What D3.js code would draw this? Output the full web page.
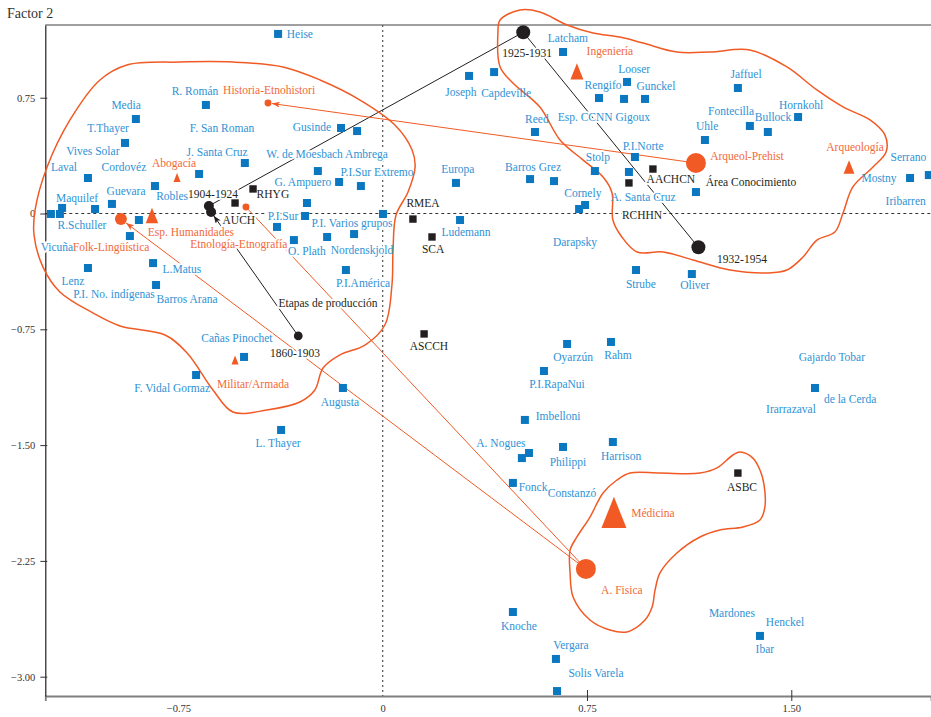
<!DOCTYPE html>
<html><head><meta charset="utf-8">
<script src="https://cdn.jsdelivr.net/npm/d3@7"></script>
<style>
body{margin:0;background:#fff;}
svg{display:block;font-family:"Liberation Serif","Times New Roman",serif;}
</style></head><body>
<svg id="chart" width="931" height="717"></svg>
<script>
// ---------------- DATA ----------------
const xTicks = [-0.75, 0, 0.75, 1.5];
const yTicks = [0.75, 0, -0.75, -1.5, -2.25, -3.0];
const xLabel = "", yLabel = "Factor 2";

// researchers (blue squares): [factor1, factor2]
const researcherSquares = [
[-0.384,1.163],[-0.649,0.703],[-0.906,0.612],[-0.946,0.457],[-1.082,0.230],[-0.836,0.178],[-0.674,0.256],[-0.506,0.327],[-0.994,0.062],[-1.056,0.029],[-1.177,0.036],[-1.218,-0.003],[-1.185,-0.003],[-0.895,-0.042],[-0.928,-0.146],[-0.843,-0.321],[-1.082,-0.353],[-0.832,-0.463],[-0.509,-0.929],[-0.685,-1.046],[-0.373,-1.402],
[-0.153,0.554],[-0.094,0.534],[-0.238,0.275],[-0.160,0.204],[-0.080,0.178],[-0.278,0.068],[-0.285,-0.016],[-0.388,-0.087],[-0.326,-0.172],[-0.204,-0.152],[-0.105,-0.133],[-0.135,-0.366],[0.001,-0.003],[-0.146,-1.130],
[0.317,0.891],[0.409,0.916],[0.662,1.046],[0.794,0.748],[0.886,0.742],[0.897,0.852],[0.963,0.742],[0.559,0.528],[0.269,0.198],[0.284,-0.042],[0.541,0.223],[0.629,0.210],[0.779,0.275],[0.743,0.055],[0.721,0.029],[0.904,0.269],[0.926,0.366],[1.183,0.476],[1.304,0.813],[1.348,0.567],[1.414,0.528],[1.525,0.625],[1.150,0.139],[1.936,0.230],[2.005,0.249],[0.930,-0.366],[1.135,-0.392],
[0.677,-0.845],[0.838,-0.832],[0.592,-1.020],[0.522,-1.337],[0.537,-1.551],[0.511,-1.584],[0.662,-1.512],[0.845,-1.480],[0.478,-1.745],[1.587,-1.130],[0.478,-2.581],[0.636,-2.885],[0.640,-3.093],[1.385,-2.736]
];
// researcher names: [name, factor1, factor2] (label anchor)
const researcherNames = [
["Heise",-0.304,1.163],["R. Román",-0.689,0.793],["Media",-0.942,0.703],["T.Thayer",-1.008,0.554],["Vives Solar",-1.064,0.405],["Laval",-1.170,0.301],["Cordovéz",-0.950,0.301],["Maquilef",-1.122,0.100],["Guevara",-0.942,0.146],["Robles",-0.773,0.113],["R.Schuller",-1.104,-0.074],["Vicuña",-1.196,-0.217],["Lenz",-1.137,-0.437],["P.I. No. indígenas",-0.986,-0.521],["L.Matus",-0.737,-0.359],["Barros Arana",-0.718,-0.554],["Cañas Pinochet",-0.535,-0.806],["F. Vidal Gormaz",-0.773,-1.130],["L. Thayer",-0.384,-1.486],
["F. San Roman",-0.590,0.554],["J. Santa Cruz",-0.608,0.398],["Gusinde",-0.260,0.560],["W. de Moesbach Ambrega",-0.204,0.385],["G. Ampuero",-0.293,0.204],["P.I.Sur Extremo",-0.021,0.269],["P.I.Sur",-0.366,-0.016],["P.I. Varios grupos",-0.113,-0.062],["O. Plath",-0.278,-0.243],["Nordenskjold",-0.076,-0.236],["P.I.América",-0.072,-0.450],["Augusta",-0.157,-1.221],
["Joseph",0.287,0.787],["Capdeville",0.453,0.780],["Latcham",0.680,1.137],["Looser",0.923,0.936],["Rengifo",0.809,0.832],["Gunckel",1.003,0.826],["Esp. CCNN Gigoux",0.812,0.625],["Reed",0.566,0.612],["Jaffuel",1.334,0.903],["Hornkohl",1.536,0.703],["Fontecilla",1.279,0.664],["Bullock",1.433,0.625],["Uhle",1.191,0.567],["P.I.Norte",0.956,0.437],["Stolp",0.790,0.366],["Barros Grez",0.552,0.301],["Europa",0.276,0.288],["Cornely",0.735,0.133],["A. Santa Cruz",0.956,0.107],["Ludemann",0.306,-0.120],["Darapsky",0.706,-0.185],["Mostny",1.822,0.230],["Serrano",1.930,0.366],["Iribarren",1.920,0.081],["Strube",0.948,-0.457],["Oliver",1.146,-0.463],
["Oyarzún",0.699,-0.929],["Rahm",0.864,-0.916],["P.I.RapaNui",0.640,-1.104],["Gajardo Tobar",1.649,-0.929],["de la Cerda",1.716,-1.201],["Irarrazaval",1.499,-1.266],["Imbelloni",0.644,-1.312],["A. Nogues",0.434,-1.486],["Philippi",0.680,-1.609],["Harrison",0.875,-1.571],["Fonck",0.552,-1.771],["Constanzó",0.695,-1.810],["Knoche",0.500,-2.672],["Vergara",0.691,-2.795],["Solis Varela",0.783,-2.976],["Mardones",1.282,-2.587],["Henckel",1.477,-2.646],["Ibar",1.403,-2.821]
];
// institutions (black squares)
const institutionSquares = [[-0.476,0.159],[-0.542,0.068],[0.111,-0.036],[0.181,-0.152],[0.152,-0.780],[0.992,0.288],[0.904,0.198],[1.304,-1.681]];
const institutionNames = [["RHYG",-0.403,0.126],["AUCH",-0.528,-0.042],["RMEA",0.148,0.068],["SCA",0.185,-0.230],["ASCCH",0.170,-0.858],["AACHCN",1.058,0.223],["Área Conocimiento",1.352,0.204],["RCHHN",0.952,-0.010],["ASBC",1.319,-1.771],["Etapas de producción",-0.201,-0.580]];
// periods (black circles): [name, f1, f2, weight]
const periods = [["1860-1903",-0.310,-0.793,19],["1904-1924",-0.638,0.049,25],["1904-1924*",-0.630,0.010,25],["1925-1931",0.516,1.174,49],["1932-1954",1.159,-0.219,49]];
const periodNames = [["1860-1903",-0.322,-0.903],["1904-1924",-0.623,0.126],["1925-1931",0.530,1.040],["1932-1954",1.319,-0.295]];
const periodLinks = [["1904-1924","1925-1931",false],["1925-1931","1932-1954",false],["1860-1903","1904-1924*",true]];
// disciplines (orange)
const disciplineCircles = [["Historia-Etnohistori",-0.421,0.716,12],["Folk-Lingüística",-0.961,-0.036,36],["Etnología-Etnografía",-0.502,0.042,12],["Arqueol-Prehist",1.150,0.327,100],["A. Fisica",0.746,-2.302,100]];
const disciplineTriangles = [["Abogacía",-0.755,0.233,8],["Esp. Humanidades",-0.847,-0.013,25],["Militar/Armada",-0.542,-0.949,8],["Ingeniería",0.713,0.920,27],["Arqueología",1.712,0.301,19],["Médicina",0.849,-1.936,100]];
const disciplineNames = [["Historia-Etnohistori",-0.417,0.800],["Abogacía",-0.766,0.327],["Esp. Humanidades",-0.704,-0.120],["Folk-Lingüística",-0.997,-0.217],["Etnología-Etnografía",-0.528,-0.198],["Militar/Armada",-0.476,-1.104],["Ingeniería",0.834,1.052],["Arqueol-Prehist",1.337,0.372],["Arqueología",1.734,0.431],["Médicina",0.992,-1.940],["A. Fisica",0.878,-2.438]];
const disciplineLinks = [["Arqueol-Prehist","Historia-Etnohistori",true],["A. Fisica","Folk-Lingüística",true],["A. Fisica","Etnología-Etnografía",false]];
// cluster outlines
const hullLeft = [[-1.276,0.023],[-1.232,0.301],[-1.148,0.606],[-1.038,0.865],[-0.939,0.962],[-0.744,0.981],[-0.550,0.981],[-0.366,0.949],[-0.230,0.865],[-0.083,0.735],[0.045,0.573],[0.108,0.411],[0.119,0.301],[0.093,0.139],[0.049,-0.010],[0.038,-0.236],[0.034,-0.463],[0.008,-0.722],[-0.065,-0.852],[-0.157,-0.916],[-0.219,-1.001],[-0.249,-1.143],[-0.304,-1.221],[-0.425,-1.273],[-0.550,-1.286],[-0.623,-1.143],[-0.718,-0.903],[-0.799,-0.787],[-0.964,-0.729],[-1.064,-0.644],[-1.185,-0.508],[-1.247,-0.347],[-1.280,-0.139]];
const hullTopRight = [[0.431,1.253],[0.504,1.318],[0.577,1.305],[0.677,1.221],[0.772,1.169],[0.871,1.143],[0.956,1.104],[1.080,1.046],[1.202,1.046],[1.348,1.059],[1.484,0.949],[1.594,0.800],[1.690,0.690],[1.789,0.606],[1.844,0.508],[1.848,0.398],[1.800,0.301],[1.726,0.172],[1.690,0.003],[1.660,-0.120],[1.594,-0.172],[1.543,-0.282],[1.484,-0.366],[1.411,-0.385],[1.275,-0.366],[1.139,-0.301],[1.029,-0.249],[0.934,-0.249],[0.878,-0.152],[0.845,-0.042],[0.842,0.133],[0.809,0.236],[0.735,0.347],[0.651,0.476],[0.577,0.690],[0.478,0.845],[0.431,0.949],[0.423,1.169]];
const hullBottomRight = [[0.860,-1.726],[0.908,-1.681],[1.018,-1.681],[1.165,-1.681],[1.227,-1.648],[1.286,-1.564],[1.312,-1.545],[1.359,-1.584],[1.385,-1.661],[1.400,-1.758],[1.403,-1.901],[1.385,-1.985],[1.323,-2.030],[1.238,-2.050],[1.165,-2.095],[1.080,-2.199],[1.018,-2.328],[1.000,-2.438],[0.989,-2.549],[0.963,-2.633],[0.897,-2.710],[0.834,-2.698],[0.761,-2.633],[0.699,-2.484],[0.688,-2.328],[0.688,-2.179],[0.713,-2.095],[0.761,-1.966],[0.809,-1.810]];

// ---------------- CHART ----------------
const BLUE="#0a77c0", BLUE_TXT="#2f92d5", ORANGE="#f15a24", ORANGE_TXT="#f2693a", BLACK="#231f20";
const svg=d3.select("#chart");
const x=d3.scaleLinear().domain([-1.2386,2.0129]).range([45.3,931]);
const y=d3.scaleLinear().domain([-3.125,1.2209]).range([696,25]);
const rScale=w=>Math.sqrt(w);
const triW=w=>2.5*Math.sqrt(w);

const defs=svg.append("defs");
[["arrO",ORANGE],["arrK",BLACK]].forEach(([id,c])=>{
  defs.append("marker").attr("id",id).attr("viewBox","0 -3 8 6").attr("refX",8).attr("refY",0)
    .attr("markerWidth",8).attr("markerHeight",6).attr("markerUnits","userSpaceOnUse").attr("orient","auto")
    .append("path").attr("d","M0,-3L8,0L0,3L2,0Z").attr("fill",c);
});

// frame / axes
svg.append("text").attr("x",7).attr("y",18).attr("font-size",14).attr("fill","#333").text(yLabel);
svg.append("line").attr("x1",x.range()[0]).attr("x2",931).attr("y1",25).attr("y2",25).attr("stroke","#7f7f7f").attr("stroke-width",1.6);
const gx=svg.append("g").attr("transform","translate(0,696)").call(d3.axisBottom(x).tickValues(xTicks).tickSize(5).tickPadding(4).tickFormat(d=>d===0?"0":d3.format(".2f")(d).replace("-","−")));
gx.select(".domain").attr("stroke","#7f7f7f").attr("stroke-width",1.8);
gx.selectAll(".tick line").attr("y1",-6).attr("stroke","#333").attr("opacity",d=>d>0?1:0);
gx.selectAll(".tick text").attr("font-size",10.5).attr("fill","#333").attr("font-family","Liberation Serif,serif");
const gy=svg.append("g").attr("transform","translate(45.3,0)").call(d3.axisLeft(y).tickValues(yTicks).tickSize(4).tickSizeOuter(0).tickPadding(6).tickFormat(d=>d===0?"0":d3.format(".2f")(d).replace("-","−")));
gy.select(".domain").attr("stroke",BLACK).attr("stroke-width",1.2);
gy.selectAll(".tick line").attr("x2",-5).attr("x1",2).attr("stroke","#333");
gy.selectAll(".tick text").attr("font-size",10.5).attr("fill","#333").attr("font-family","Liberation Serif,serif");

// zero lines
svg.append("line").attr("x1",x.range()[0]).attr("x2",931).attr("y1",y(0)).attr("y2",y(0)).attr("stroke",BLACK).attr("stroke-width",0.9).attr("stroke-dasharray","3,3");
svg.append("line").attr("x1",x(0)).attr("x2",x(0)).attr("y1",25).attr("y2",696).attr("stroke","#555").attr("stroke-width",1.2).attr("stroke-dasharray","2,3");

// links
function shortLine(a,b,rb){
  const x1=x(a[1]),y1=y(a[2]),x2=x(b[1]),y2=y(b[2]);
  const L=Math.hypot(x2-x1,y2-y1);
  return [x1,y1,x2-(x2-x1)*rb/L,y2-(y2-y1)*rb/L];
}
const pMap=new Map(periods.map(d=>[d[0],d]));
periodLinks.forEach(([a,b,arr])=>{
  const A=pMap.get(a),B=pMap.get(b);
  const s=shortLine(A,B,arr?rScale(B[3])*0.9:0);
  svg.append("line").attr("x1",s[0]).attr("y1",s[1]).attr("x2",s[2]).attr("y2",s[3])
    .attr("stroke",BLACK).attr("stroke-width",1).attr("marker-end",arr?"url(#arrK)":null);
});
const dMap=new Map(disciplineCircles.map(d=>[d[0],d]));
disciplineLinks.forEach(([a,b,arr])=>{
  const A=dMap.get(a),B=dMap.get(b);
  const s=shortLine(A,B,arr?rScale(B[3])+0.5:0);
  svg.append("line").attr("x1",s[0]).attr("y1",s[1]).attr("x2",s[2]).attr("y2",s[3])
    .attr("stroke",ORANGE).attr("stroke-width",1).attr("marker-end",arr?"url(#arrO)":null);
});

// label halos
const allLabels=[...researcherNames.map(d=>[...d,BLUE_TXT]),...institutionNames.map(d=>[...d,BLACK]),...periodNames.map(d=>[...d,BLACK]),...disciplineNames.map(d=>[...d,ORANGE_TXT])];
svg.append("g").selectAll("text").data(allLabels).join("text")
  .attr("x",d=>x(d[1])).attr("y",d=>y(d[2])).attr("dy","0.35em").attr("text-anchor","middle")
  .attr("font-size",11.5).attr("fill","none").attr("stroke","#fff").attr("stroke-width",3.5).attr("stroke-linejoin","round")
  .text(d=>d[0]);

// hulls
const hullLine=d3.line().x(d=>x(d[0])).y(d=>y(d[1])).curve(d3.curveCatmullRomClosed.alpha(0.5));
[hullLeft,hullTopRight,hullBottomRight].forEach(h=>{
  svg.append("path").attr("d",hullLine(h)).attr("fill","none").attr("stroke",ORANGE).attr("stroke-width",1.5);
});

// squares
svg.append("g").selectAll("rect").data(researcherSquares).join("rect")
  .attr("x",d=>x(d[0])-4).attr("y",d=>y(d[1])-4).attr("width",8).attr("height",8).attr("fill",BLUE);
svg.append("g").selectAll("rect").data(institutionSquares).join("rect")
  .attr("x",d=>x(d[0])-3.7).attr("y",d=>y(d[1])-3.7).attr("width",7.4).attr("height",7.4).attr("fill",BLACK);

// periods
svg.append("g").selectAll("circle").data(periods).join("circle")
  .attr("cx",d=>x(d[1])).attr("cy",d=>y(d[2])).attr("r",d=>rScale(d[3])).attr("fill",BLACK);

// disciplines
svg.append("g").selectAll("circle").data(disciplineCircles).join("circle")
  .attr("cx",d=>x(d[1])).attr("cy",d=>y(d[2])).attr("r",d=>rScale(d[3])).attr("fill",ORANGE);
svg.append("g").selectAll("path").data(disciplineTriangles).join("path")
  .attr("d",d=>{const w=triW(d[3]),h=w*1.25,cx=x(d[1]),cy=y(d[2]);
    return `M${cx},${cy-h/2}L${cx+w/2},${cy+h/2}L${cx-w/2},${cy+h/2}Z`;})
  .attr("fill",ORANGE);

// label texts
svg.append("g").selectAll("text").data(allLabels).join("text")
  .attr("x",d=>x(d[1])).attr("y",d=>y(d[2])).attr("dy","0.35em").attr("text-anchor","middle")
  .attr("font-size",11.5).attr("fill",d=>d[3])
  .text(d=>d[0]);
</script>
</body></html>
